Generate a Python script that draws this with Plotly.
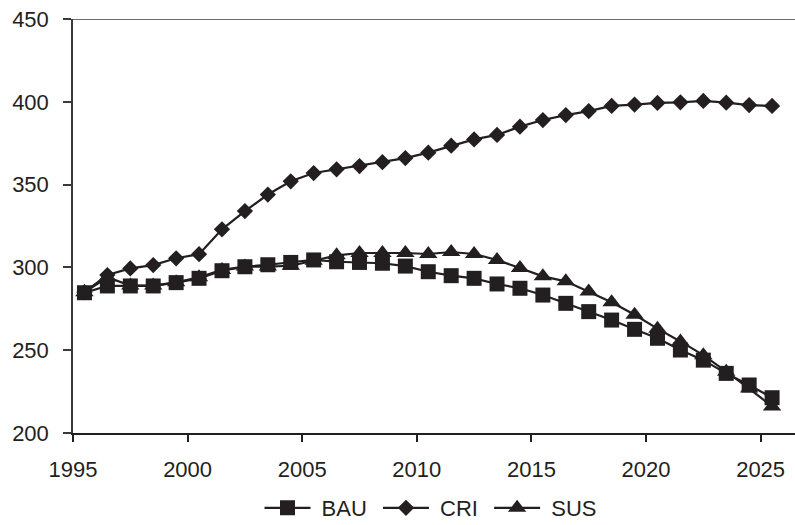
import plotly.graph_objects as go

# Scenario years (one point per year, drawn at the middle of each year slot)
years = list(range(1995, 2026))

bau = [284.7, 288.8, 288.8, 288.8, 290.8, 293.4, 298.0, 300.4, 301.6, 303.0,
       304.5, 303.4, 303.0, 302.5, 300.8, 297.4, 295.0, 293.4, 290.0, 287.4,
       283.3, 278.3, 273.3, 268.2, 262.6, 257.2, 250.1, 244.0, 236.0, 229.0,
       221.3]
cri = [285.0, 295.4, 299.4, 301.4, 305.5, 308.0, 323.0, 334.0, 344.0, 352.0,
       357.0, 359.2, 361.2, 363.5, 366.0, 369.3, 373.5, 377.3, 380.0, 385.0,
       389.0, 392.0, 394.4, 397.5, 398.3, 399.3, 399.7, 400.5, 399.5, 398.0,
       397.5]
sus = [285.0, 294.0, 289.0, 289.0, 291.0, 294.0, 298.5, 300.5, 300.5, 301.0,
       304.0, 307.3, 308.7, 308.7, 308.7, 308.1, 309.3, 308.1, 304.5, 299.6,
       294.6, 291.6, 285.5, 279.0, 271.4, 263.0, 255.3, 247.0, 237.0, 226.8,
       216.0]

y_ticks = [200, 250, 300, 350, 400, 450]
x_ticks = [1995, 2000, 2005, 2010, 2015, 2020, 2025]

ink = "#231f20"
axis_col = "#3a3a3a"
font_family = "Liberation Sans, Arial, sans-serif"
pad = "\u00a0"

x_pos = [y + 0.5 for y in years]

fig = go.Figure()
series = [
    ("BAU", bau, "square", 15),
    ("CRI", cri, "diamond", 12.5),
    ("SUS", sus, "triangle-up", 16),
]
for name, vals, sym, size in series:
    fig.add_trace(go.Scatter(
        x=x_pos, y=vals, name=pad + name + pad, mode="lines+markers",
        line=dict(color=ink, width=2.2),
        marker=dict(symbol=sym, size=size, color=ink, line=dict(width=0)),
    ))

fig.update_layout(
    width=795, height=525,
    margin=dict(l=73, r=0, t=19, b=92, autoexpand=False),
    paper_bgcolor="white", plot_bgcolor="white",
    font=dict(family=font_family, size=22, color=ink),
    showlegend=True,
    legend=dict(orientation="h", x=0.5, xanchor="center",
                yref="container", y=1 - 508 / 525, yanchor="middle",
                font=dict(size=22, color=ink),
                itemwidth=46, traceorder="normal"),
    xaxis=dict(range=[1995, 2026.5], tickvals=x_ticks,
               ticktext=[str(t) for t in x_ticks],
               showgrid=False, zeroline=False, showline=True,
               linecolor=ink, linewidth=1.5,
               ticks="outside", ticklen=7, tickwidth=1.5, tickcolor=ink,
               ticklabelstandoff=9),
    yaxis=dict(range=[200, 450], tickvals=y_ticks,
               showgrid=False, zeroline=False, showline=True,
               linecolor=axis_col, linewidth=1.5,
               ticks="outside", ticklen=8, tickwidth=1.5, tickcolor=axis_col,
               ticklabelstandoff=10),
)

# Frame line along the top of the plot area
fig.add_shape(type="line", xref="paper", yref="y", x0=0, x1=1, y0=450, y1=450,
              line=dict(color=axis_col, width=1.5))

fig.write_html("out.html")
